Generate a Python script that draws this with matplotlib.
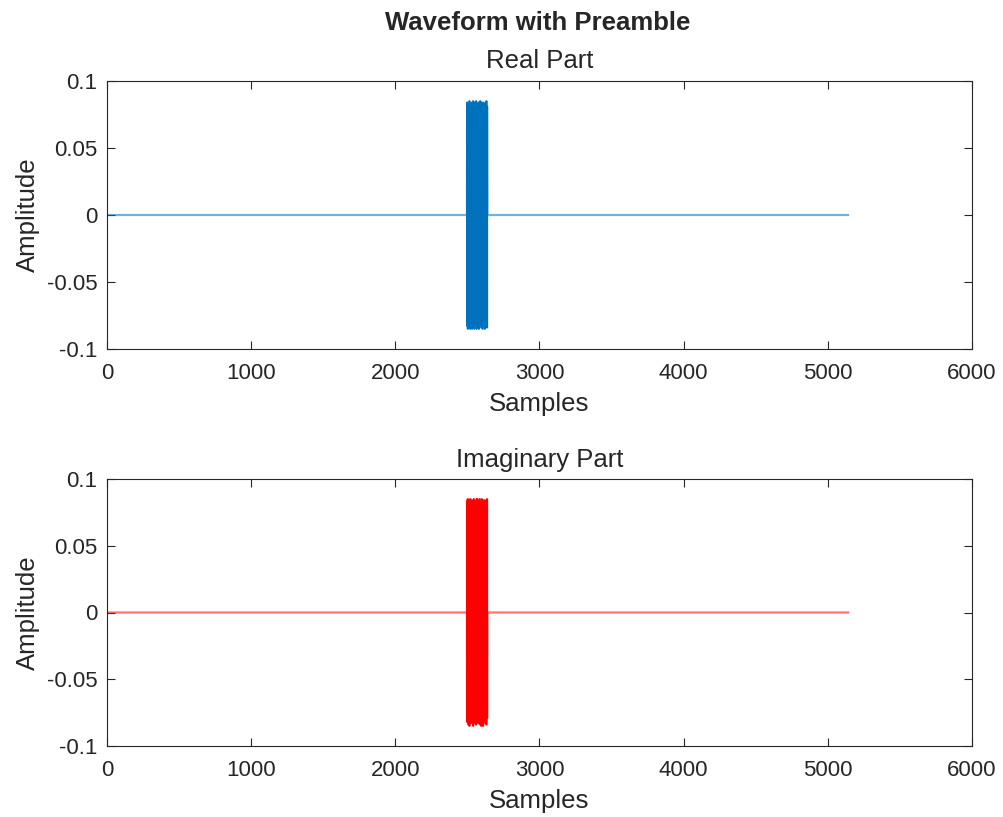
import numpy as np
import matplotlib.pyplot as plt

plt.rcParams['font.family'] = ['Liberation Sans', 'DejaVu Sans']

# waveform: zeros everywhere except the preamble burst
n_samples = 5140
burst_start = 2497

burst_real = [
    0.084, -0.083, 0.061, -0.032, 0.079, -0.085, 0.045, 0.012, -0.071, 0.083,
    -0.054, -0.020, 0.068, -0.084, 0.077, -0.039, 0.085, -0.062, 0.018, 0.050,
    -0.080, 0.072, -0.085, 0.031, 0.064, -0.076, 0.084, -0.047, -0.009, 0.058,
    -0.083, 0.081, -0.066, 0.024, 0.074, -0.085, 0.052, -0.015, -0.042, 0.083,
    -0.078, 0.036, 0.085, -0.069, 0.011, 0.057, -0.084, 0.076, -0.028, -0.063,
    0.082, -0.085, 0.049, 0.021, -0.073, 0.084, -0.058, 0.075, -0.082, 0.040,
    0.066, -0.079, 0.085, -0.044, -0.017, 0.061, -0.085, 0.078, -0.060, 0.027,
    0.077, -0.084, 0.055, -0.012, -0.048, 0.083, -0.074, 0.033, 0.084, -0.067,
    0.014, 0.059, -0.085, 0.073, -0.025, -0.065, 0.081, -0.084, 0.046, 0.023,
    -0.075, 0.085, -0.056, 0.079, -0.081, 0.037, 0.069, -0.077, 0.084, -0.041,
    -0.019, 0.063, -0.084, 0.080, -0.057, 0.029, 0.075, -0.085, 0.053, -0.010,
    -0.050, 0.084, -0.072, 0.035, 0.083, -0.070, 0.016, 0.060, -0.083, 0.074,
    -0.022, -0.067, 0.082, -0.085, 0.043, 0.026, -0.077, 0.084, -0.053, 0.078,
    -0.080, 0.038, 0.071, -0.079, 0.085, -0.045, -0.014, 0.064, -0.084, 0.081,
]

burst_imag = [
    -0.082, 0.084, -0.058, 0.035, -0.080, 0.085, -0.048, -0.010, 0.073, -0.084,
    0.051, 0.023, -0.070, 0.083, -0.075, 0.042, -0.085, 0.060, -0.016, -0.053,
    0.081, -0.070, 0.085, -0.034, -0.062, 0.078, -0.083, 0.044, 0.012, -0.061,
    0.084, -0.079, 0.068, -0.021, -0.076, 0.084, -0.049, 0.018, 0.045, -0.082,
    0.080, -0.033, -0.085, 0.071, -0.013, -0.055, 0.085, -0.074, 0.030, 0.066,
    -0.081, 0.084, -0.046, -0.024, 0.075, -0.083, 0.060, -0.073, 0.083, -0.037,
    -0.068, 0.080, -0.084, 0.047, 0.015, -0.063, 0.085, -0.076, 0.062, -0.030,
    -0.078, 0.085, -0.052, 0.010, 0.051, -0.082, 0.076, -0.036, -0.083, 0.069,
    -0.016, -0.057, 0.084, -0.071, 0.027, 0.067, -0.080, 0.085, -0.043, -0.026,
    0.077, -0.084, 0.054, -0.077, 0.082, -0.034, -0.071, 0.078, -0.085, 0.039,
    0.021, -0.065, 0.085, -0.078, 0.055, -0.032, -0.074, 0.084, -0.050, 0.013,
    0.048, -0.085, 0.070, -0.038, -0.082, 0.072, -0.018, -0.058, 0.084, -0.072,
    0.024, 0.069, -0.081, 0.084, -0.040, -0.029, 0.079, -0.083, 0.050, -0.076,
    0.081, -0.035, -0.072, 0.080, -0.084, 0.043, 0.017, -0.066, 0.085, -0.079,
]

samples = np.arange(1, n_samples + 1)
real_part = np.zeros(n_samples)
imag_part = np.zeros(n_samples)
real_part[burst_start:burst_start + len(burst_real)] = burst_real
imag_part[burst_start:burst_start + len(burst_imag)] = burst_imag

xticks = [0, 1000, 2000, 3000, 4000, 5000, 6000]
yticks = [-0.1, -0.05, 0, 0.05, 0.1]
yticklabels = ['-0.1', '-0.05', '0', '0.05', '0.1']

fig = plt.figure(figsize=(10.04, 8.17), dpi=100)
ax1 = fig.add_axes([107/1004, 1 - 349/817, 865/1004, 268/817])
ax2 = fig.add_axes([107/1004, 1 - 746/817, 865/1004, 267/817])

txt = '#262626'
for ax, y, col, ttl in [(ax1, real_part, '#0072BD', 'Real Part'),
                        (ax2, imag_part, '#FF0000', 'Imaginary Part')]:
    # thin flat line looks lighter in the original, burst is solid
    ax.plot(samples, y, color=col, lw=1.6, alpha=0.55)
    b = slice(burst_start - 1, burst_start + len(burst_real) + 1)
    ax.plot(samples[b], y[b], color=col, lw=1.1)
    ax.set_xlim(0, 6000)
    ax.set_ylim(-0.1, 0.1)
    ax.set_xticks(xticks)
    ax.set_yticks(yticks)
    ax.set_yticklabels(yticklabels)
    ax.tick_params(direction='in', top=True, right=True, length=6,
                   labelsize=16, colors=txt, width=0.8)
    ax.tick_params(axis='x', pad=10)
    ax.tick_params(axis='y', pad=7)
    for s in ax.spines.values():
        s.set_color(txt)
        s.set_linewidth(0.8)
    ax.set_title(ttl, fontsize=18.5, color=txt, pad=9)
    ax.set_xlabel('Samples', fontsize=18.5, color=txt, labelpad=6)
    ax.set_ylabel('Amplitude', fontsize=18.5, color=txt, labelpad=5)

fig.text(538/1004, 1 - 23/817, 'Waveform with Preamble', ha='center', va='center',
         fontsize=18.5, fontweight='bold', color=txt)

fig.savefig('out.png', dpi=100)
